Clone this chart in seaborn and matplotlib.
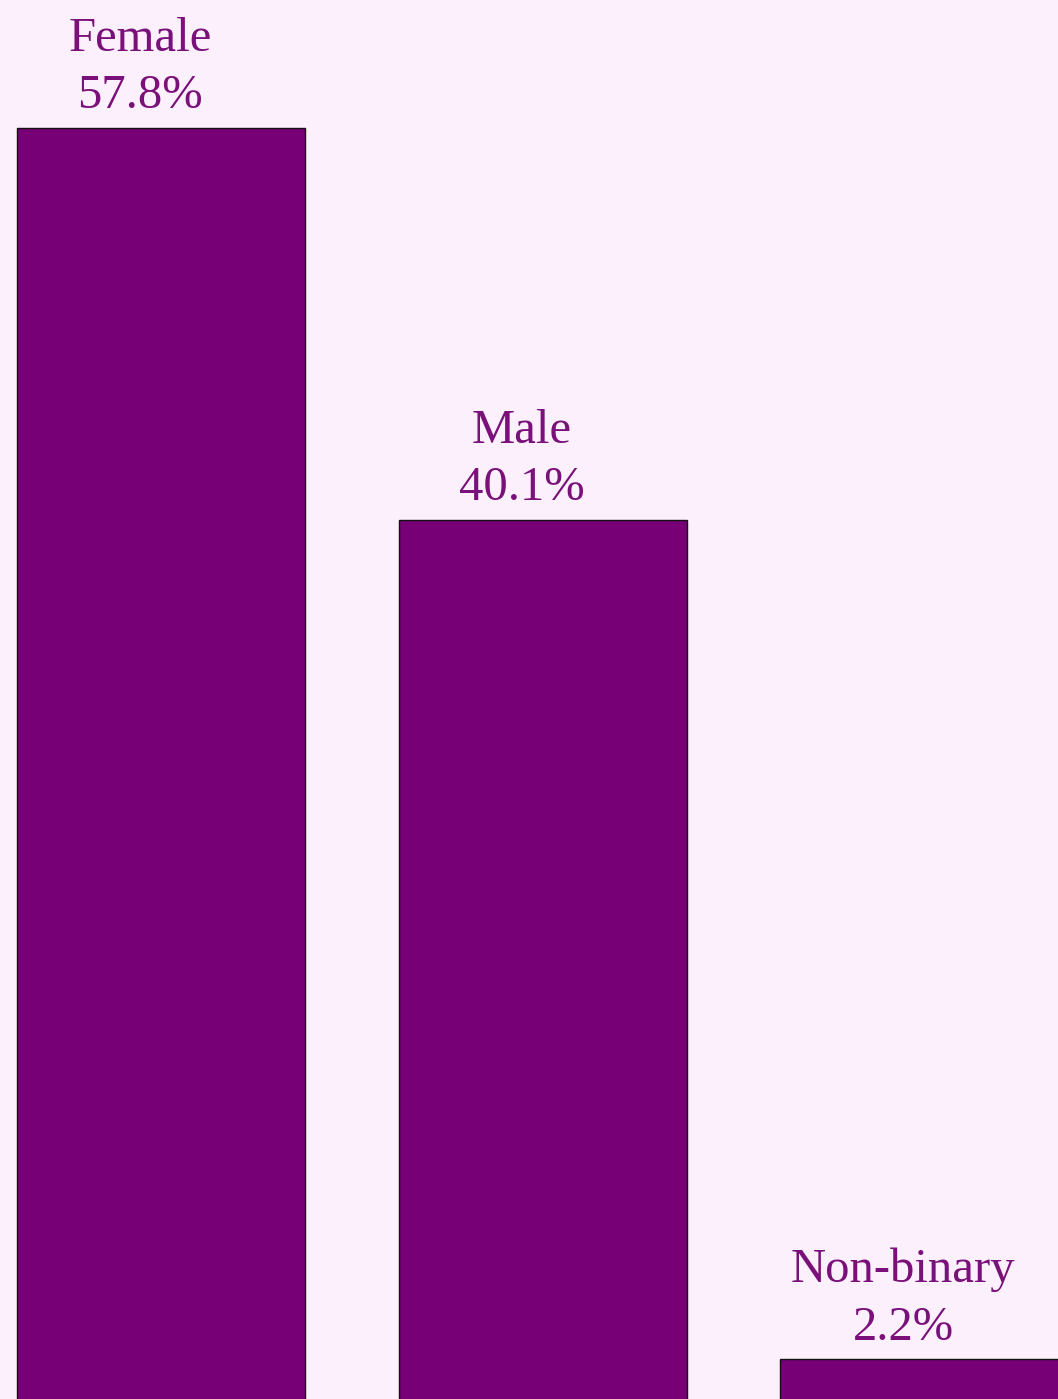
import matplotlib
matplotlib.use("Agg")
import matplotlib.pyplot as plt
import seaborn as sns
import pandas as pd

genders = ["Female", "Male", "Non-binary"]
shares = [57.8, 40.1, 2.2]

bg = "#fbf0fb"
bar_color = "#780077"
text_color = "#7a107a"

sns.set_theme(style="white")
plt.rcParams["font.family"] = ["Liberation Serif", "DejaVu Serif"]

df = pd.DataFrame({"gender": genders, "share": shares})

fig = plt.figure(figsize=(10.58, 13.99), dpi=100, facecolor=bg)
ax = fig.add_axes([0, 0, 1, 1])
ax.set_facecolor(bg)

sns.barplot(data=df, x="gender", y="share", color=bar_color, saturation=1,
            width=0.755, edgecolor="#111111", linewidth=1.0, ax=ax)

for i, (g, v) in enumerate(zip(genders, shares)):
    ax.annotate(f"{g}\n{v:.1f}%", xy=(i - 0.055, v), xytext=(0, 7),
                textcoords="offset points", ha="center", va="bottom",
                fontsize=35, color=text_color, linespacing=1.4)

ax.set_xlim(-0.422, 2.351)
ax.set_ylim(0.41, 63.58)
ax.set_axis_off()

fig.savefig("out.png", dpi=100, facecolor=bg)
